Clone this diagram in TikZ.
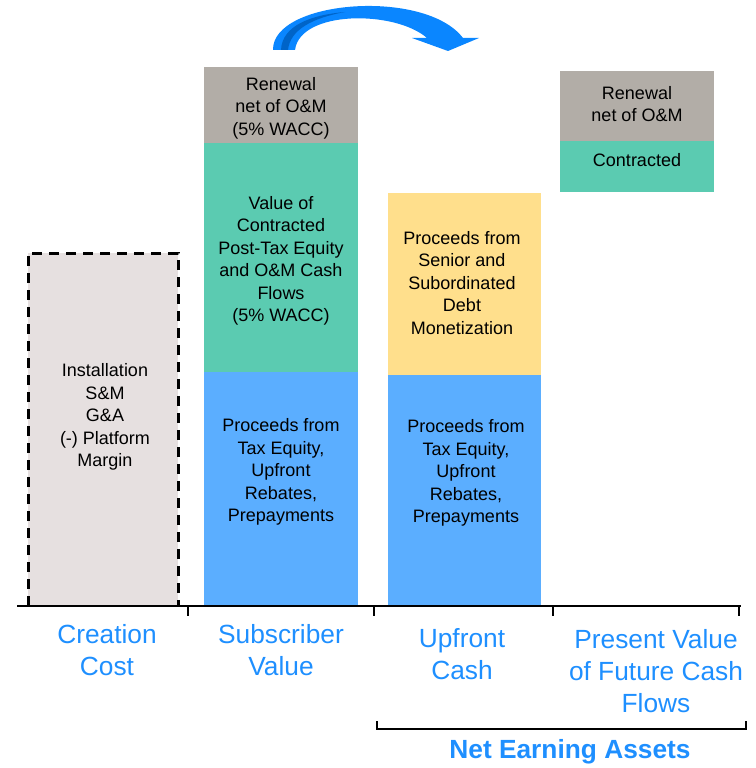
\documentclass[tikz,border=0pt]{standalone}
\usepackage{fontspec}
\setmainfont{Liberation Sans}
\definecolor{cgray}{HTML}{B2ADA7}
\definecolor{cteal}{HTML}{5BCBB1}
\definecolor{cblue}{HTML}{5BAEFF}
\definecolor{cyellow}{HTML}{FFDF8C}
\definecolor{cpink}{HTML}{E6E0E0}
\definecolor{clabel}{HTML}{1E8FFF}
\definecolor{carrow}{HTML}{0A86FF}
\definecolor{carrowdark}{HTML}{0064C8}
\begin{document}
\begin{tikzpicture}[x=1pt,y=-1pt,
  box/.style={draw=none,inner sep=0pt,outer sep=0pt,anchor=north west},
  btext/.style={align=center,font=\fontsize{18}{22.5}\selectfont,text=black,inner sep=0pt},
  lbl/.style={align=center,font=\fontsize{26.3}{32}\selectfont,text=clabel,inner sep=0pt},
  axisline/.style={line width=2pt,black}]
\useasboundingbox (0,0) rectangle (755,768);
% creation cost box
\node[box,fill=cpink,minimum width=150pt,minimum height=353pt] (cc) at (28,253) {};
\draw[line width=3pt,dash pattern=on 10pt off 7pt] (cc.south west) -- (cc.north west) -- (cc.north east) -- (cc.south east);
\node[btext] (cct) at (105,417) {Installation\\S\&M\\G\&A\\(-) Platform\\Margin};
% subscriber value
\node[box,fill=cgray,minimum width=154pt,minimum height=76pt] (sv1) at (204,67) {};
\node[box,fill=cteal,minimum width=154pt,minimum height=229pt] (sv2) at (204,143) {};
\node[box,fill=cblue,minimum width=154pt,minimum height=234pt] (sv3) at (204,372) {};
\node[btext] (sv1t) at (281,108) {Renewal\\net of O\&M\\(5\% WACC)};
\node[btext] (sv2t) at (281,261) {Value of\\Contracted\\Post-Tax Equity\\and O\&M Cash\\Flows\\(5\% WACC)};
\node[btext] (sv3t) at (281,472) {Proceeds from\\Tax Equity,\\Upfront\\Rebates,\\Prepayments};
% upfront cash
\node[box,fill=cyellow,minimum width=153pt,minimum height=182pt] (uc1) at (388,193) {};
\node[box,fill=cblue,minimum width=153pt,minimum height=231pt] (uc2) at (388,375) {};
\node[btext] (uc1t) at (462,283) {Proceeds from\\Senior and\\Subordinated\\Debt\\Monetization};
\node[btext] (uc2t) at (466,473) {Proceeds from\\Tax Equity,\\Upfront\\Rebates,\\Prepayments};
% present value
\node[box,fill=cgray,minimum width=154pt,minimum height=70pt] (pv1) at (560,71) {};
\node[box,fill=cteal,minimum width=154pt,minimum height=51pt] (pv2) at (560,141) {};
\node[btext] (pv1t) at (637,104) {Renewal\\net of O\&M};
\node[btext] (pv2t) at (637,160) {Contracted};
% axis
\coordinate (a0) at (17,606);
\coordinate (a1) at (741,606);
\draw[axisline] (a0) -- (a1);
\foreach \x in {188,374,553,739} \draw[axisline] (\x,606) -- (\x,616);
% labels
\node[lbl] (l1) at (107,650) {Creation\\Cost};
\node[lbl] (l2) at (281,650) {Subscriber\\Value};
\node[lbl] (l3) at (462,654) {Upfront\\Cash};
\node[lbl] (l4) at (656,671) {Present Value\\of Future Cash\\Flows};
% bracket
\coordinate (b0) at (377,721);
\coordinate (b1) at (746,721);
\draw[line width=2pt] (b0) -- (377,729) -- (746,729) -- (b1);
\node[lbl,font=\bfseries\fontsize{26.3}{30}\selectfont] (nea) at (570,752) {Net Earning Assets};
% curved arrow
\fill[carrow] (273,50) .. controls (272,0) and (425,-12) .. (463,38) -- (479,38) -- (448,51) -- (412,38) -- (427,38) .. controls (395,10) and (300,10) .. (295,50) -- cycle;
\fill[carrowdark] (281,50) .. controls (282,26) and (310,15) .. (345,12) .. controls (312,18) and (290,30) .. (288,50) -- cycle;
\end{tikzpicture}
\end{document}
